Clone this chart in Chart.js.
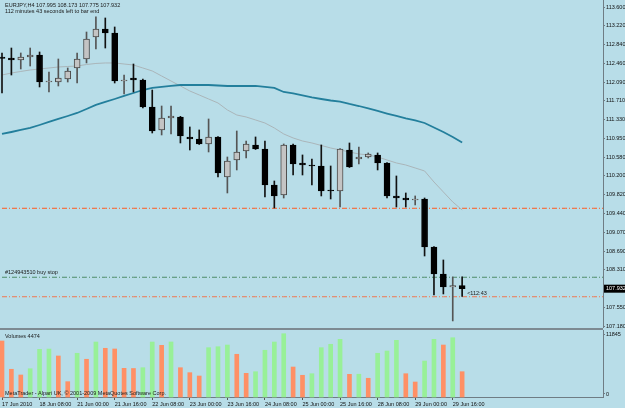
<!DOCTYPE html>
<html>
<head>
<meta charset="utf-8">
<script src="https://cdn.jsdelivr.net/npm/chart.js@4.4.1/dist/chart.umd.min.js"></script>
<style>
  html, body { margin: 0; padding: 0; background: #b8dde8; }
  #wrap { position: relative; width: 625px; height: 408px; overflow: hidden; }
  #price-chart { position: absolute; left: 0; top: 0; }
  #vol-chart { position: absolute; left: 0; top: 328px; }
</style>
</head>
<body>
<div id="wrap">
  <canvas id="price-chart" width="625" height="328"></canvas>
  <canvas id="vol-chart" width="625" height="80"></canvas>
</div>
<script>
// EURJPY H4 — 50 bars, oldest first
const opens = [
  112.594, 112.574, 112.534, 112.594, 112.635, 112.091, 112.091, 112.152, 112.373, 112.554,
  112.997, 113.158, 113.077, 112.111, 112.172, 112.132, 111.588, 111.126, 111.367, 111.387,
  110.985, 110.944, 110.844, 110.985, 110.180, 110.522, 110.703, 110.824, 110.743, 110.019,
  109.818, 110.824, 110.462, 110.421, 110.401, 109.918, 109.898, 110.723, 110.542, 110.582,
  110.623, 110.462, 109.798, 109.757, 109.717, 109.737, 108.771, 108.228, 107.967, 107.995
];
const highs = [
  112.675, 112.775, 112.675, 112.775, 112.695, 112.293, 112.554, 112.373, 112.675, 113.097,
  113.400, 113.379, 113.198, 112.232, 112.453, 112.150, 111.930, 111.608, 111.608, 111.400,
  111.186, 111.126, 111.347, 110.995, 110.582, 111.105, 110.904, 110.985, 110.904, 110.099,
  110.844, 110.844, 110.623, 110.542, 110.824, 110.401, 110.753, 110.864, 110.783, 110.663,
  110.663, 110.472, 110.200, 109.858, 109.798, 109.757, 108.781, 108.510, 108.168, 108.173
];
const lows = [
  111.870, 112.232, 112.353, 112.413, 111.991, 111.890, 112.011, 112.091, 112.071, 112.474,
  112.755, 112.775, 112.071, 111.850, 111.890, 111.568, 111.065, 111.025, 111.045, 110.864,
  110.723, 110.834, 110.683, 110.180, 109.858, 110.321, 110.562, 110.733, 109.777, 109.556,
  109.757, 110.220, 110.220, 110.019, 109.798, 109.737, 109.576, 110.371, 110.441, 110.562,
  110.321, 109.757, 109.576, 109.576, 109.617, 108.590, 107.806, 107.826, 107.283, 107.775
];
const closes = [
  112.564, 112.534, 112.594, 112.635, 112.091, 112.111, 112.172, 112.313, 112.554, 112.957,
  113.158, 113.077, 112.111, 112.132, 112.132, 111.588, 111.105, 111.367, 111.407, 111.005,
  110.944, 110.844, 110.985, 110.260, 110.502, 110.683, 110.844, 110.743, 110.019, 109.798,
  110.824, 110.441, 110.421, 110.401, 109.898, 109.898, 110.743, 110.381, 110.582, 110.643,
  110.462, 109.798, 109.757, 109.717, 109.737, 108.771, 108.228, 107.967, 107.995, 107.932
];
const volumes = [
  9900, 4900, 3890, 5000, 8430, 8480, 7250, 2710, 7730, 6670,
  9720, 8610, 8490, 5070, 5040, 5180, 9720, 9140, 9730, 5180,
  4300, 3710, 8720, 8890, 9190, 7550, 4190, 4470, 8260, 9720,
  11190, 5300, 3840, 4120, 8720, 9320, 10200, 4010, 4030, 3310,
  7730, 8130, 10020, 4120, 2650, 6360, 10200, 9190, 10480, 4474
];
// silver (fast) and teal (slow) moving averages
const maFast = [
  112.232, 112.272, 112.303, 112.333, 112.353, 112.373, 112.393, 112.403, 112.413, 112.443,
  112.464, 112.474, 112.474, 112.453, 112.433, 112.373, 112.313, 112.212, 112.111, 112.011,
  111.910, 111.830, 111.749, 111.669, 111.528, 111.427, 111.387, 111.327, 111.266, 111.166,
  111.045, 110.965, 110.904, 110.864, 110.814, 110.763, 110.723, 110.683, 110.643, 110.623,
  110.582, 110.522, 110.462, 110.421, 110.361, 110.301, 110.079, 109.878, 109.677, 109.516
];
const maSlow = [
  111.045, 111.085, 111.126, 111.166, 111.226, 111.287, 111.347, 111.407, 111.468, 111.548,
  111.629, 111.689, 111.749, 111.810, 111.870, 111.930, 111.971, 111.991, 112.011, 112.031,
  112.031, 112.031, 112.031, 112.021, 112.011, 112.011, 112.011, 112.011, 111.991, 111.971,
  111.890, 111.860, 111.820, 111.780, 111.749, 111.719, 111.695, 111.649, 111.608, 111.558,
  111.508, 111.457, 111.407, 111.357, 111.317, 111.266, 111.176, 111.085, 110.985, 110.874
];
const axisLabels = [
  '17 Jun 2010', '18 Jun 08:00', '21 Jun 00:00', '21 Jun 16:00', '22 Jun 08:00',
  '23 Jun 00:00', '23 Jun 16:00', '24 Jun 08:00', '25 Jun 00:00', '25 Jun 16:00',
  '28 Jun 08:00', '29 Jun 00:00', '29 Jun 16:00'
];
const priceTicks = [
  113.600, 113.220, 112.840, 112.460, 112.090, 111.710, 111.330, 110.950, 110.580,
  110.200, 109.820, 109.440, 109.070, 108.690, 108.310, 107.550, 107.180
];
const volTicks = [11845, 0];
const volMax = 11845;
const upperLevel = 109.55;
const buyStopLevel = 108.162;
const lowerLevel = 107.77;

const symbol = 'EURJPY,H4';
const orderText = '#124943510 buy stop';
const timerText = '112 minutes 43 seconds left to bar end';
const timerShort = '<112:43';
const volText = 'Volumes 4474';
const copyText = 'MetaTrader - Alpari UK, \u00a9 2001-2009 MetaQuotes Software Corp.';

const SLOTS = 65;   // 50 bars + chart shift
const last = closes.length - 1;
const xLabels = Array.from({length: SLOTS}, (_, i) => (i % 4 === 0 && axisLabels[i / 4]) || '');

const FONT = 'Liberation Sans';
Chart.defaults.font.family = FONT;
Chart.defaults.font.size = 5.5;
Chart.defaults.color = '#111';
Chart.defaults.animation = false;

const AXIS = '#6f7c84';
const isBull = i => closes[i] >= opens[i];

// fixed-width right axis so both panels share the same x mapping
function fixRightAxis (scale) {
  scale.width = 22;
  scale.paddingTop = 0;
  scale.paddingBottom = 0;
}

const priceOverlay = {
  id: 'priceOverlay',
  afterDraw (chart) {
    const {ctx} = chart;
    const x = chart.scales.x, y = chart.scales.y;
    ctx.save();
    ctx.font = `5.5px "${FONT}"`;
    ctx.textBaseline = 'middle';
    ctx.fillStyle = '#1a1a1a';
    const ohlc = [opens[last], highs[last], lows[last], closes[last]].map(v => v.toFixed(3)).join(' ');
    ctx.fillText(`${symbol} ${ohlc}`, 5, 5);
    ctx.fillText(timerText, 5, 11.5);
    ctx.fillText(orderText, 5, y.getPixelForValue(buyStopLevel) - 5);
    const py = y.getPixelForValue(closes[last]);
    ctx.fillText(timerShort, x.getPixelForValue(last) + 5, py + 4.5);
    // current price box on the axis
    ctx.fillStyle = '#000';
    ctx.fillRect(y.left + 1, py - 4, 24, 8);
    ctx.fillStyle = '#fff';
    ctx.fillText(closes[last].toFixed(3), y.left + 3, py);
    ctx.restore();
  }
};

const levelLine = (value, color) => ({
  type: 'line',
  data: xLabels.map(() => value),
  borderColor: color,
  borderWidth: 1,
  borderDash: [5, 2, 1, 2],
  pointRadius: 0,
  order: 5
});

new Chart(document.getElementById('price-chart'), {
  type: 'bar',
  data: {
    labels: xLabels,
    datasets: [
      {
        label: 'body',
        data: opens.map((o, i) => [o, closes[i]]),
        backgroundColor: ctx => isBull(ctx.dataIndex) ? '#c4c4c4' : '#000',
        borderColor: ctx => isBull(ctx.dataIndex) ? '#4a4a4a' : '#000',
        borderWidth: 1,
        borderSkipped: false,
        barThickness: 6,
        minBarLength: 1,
        grouped: false,
        clip: false,
        order: 1
      },
      {
        label: 'wick',
        data: lows.map((l, i) => [l, highs[i]]),
        backgroundColor: ctx => isBull(ctx.dataIndex) ? '#555' : '#111',
        barThickness: 1,
        grouped: false,
        clip: false,
        order: 2
      },
      {
        type: 'line', label: 'MA slow', data: maSlow,
        borderColor: '#237f9c', borderWidth: 1.8, pointRadius: 0, order: 3
      },
      {
        type: 'line', label: 'MA fast', data: maFast,
        borderColor: '#aab5b9', borderWidth: 1, pointRadius: 0, order: 4
      },
      levelLine(upperLevel, '#ff5a1e'),
      levelLine(buyStopLevel, '#4e8c68'),
      levelLine(lowerLevel, '#f07850')
    ]
  },
  options: {
    responsive: false,
    layout: { padding: { left: 2, top: 0, right: 0, bottom: 0 } },
    plugins: { legend: { display: false }, tooltip: { enabled: false } },
    scales: {
      x: { type: 'category', display: false, offset: false, grid: { offset: false } },
      y: {
        position: 'right',
        min: 107.141,
        max: 113.741,
        afterBuildTicks: scale => { scale.ticks = priceTicks.map(v => ({ value: v })); },
        afterFit: fixRightAxis,
        ticks: { padding: 1, callback: v => v.toFixed(3) },
        grid: { drawOnChartArea: false, tickLength: 2, color: AXIS },
        border: { color: AXIS }
      }
    }
  },
  plugins: [priceOverlay]
});

const volOverlay = {
  id: 'volOverlay',
  afterDraw (chart) {
    const {ctx, chartArea} = chart;
    ctx.save();
    ctx.fillStyle = '#7d8a92';
    ctx.fillRect(0, 0, chartArea.right, 2);
    ctx.font = `5.5px "${FONT}"`;
    ctx.textBaseline = 'middle';
    ctx.fillStyle = '#1a1a1a';
    ctx.fillText(volText, 5, 8);
    ctx.fillText(copyText, 5, 65);
    ctx.restore();
  }
};

new Chart(document.getElementById('vol-chart'), {
  type: 'bar',
  data: {
    labels: xLabels,
    datasets: [{
      label: 'Volumes',
      data: volumes,
      backgroundColor: ctx => {
        const i = ctx.dataIndex;
        return i > 0 && volumes[i] > volumes[i - 1] ? '#98f098' : '#ff9065';
      },
      barThickness: 4,
      clip: false
    }]
  },
  options: {
    responsive: false,
    layout: { padding: { left: 2, top: 2, right: 0, bottom: 0 } },
    plugins: { legend: { display: false }, tooltip: { enabled: false } },
    scales: {
      x: {
        type: 'category',
        offset: false,
        afterFit: scale => { scale.height = 11; scale.paddingLeft = 0; scale.paddingRight = 0; },
        ticks: { autoSkip: false, maxRotation: 0, align: 'start', padding: 1,
                 callback: (v, i) => xLabels[i] },
        grid: {
          offset: false, drawOnChartArea: false, tickLength: 3,
          color: ctx => xLabels[ctx.index] ? '#555' : 'rgba(0,0,0,0)'
        },
        border: { color: AXIS }
      },
      y: {
        position: 'right',
        min: 0,
        max: volMax,
        // MT4 keeps the max/zero labels just inside the panel
        afterBuildTicks: scale => {
          scale.ticks = volTicks.map(v => ({ value: v > 0 ? v * 0.93 : volMax * 0.045 }));
        },
        afterFit: fixRightAxis,
        ticks: { padding: 1, callback: v => (v > volMax / 2 ? volTicks[0] : volTicks[1]) },
        grid: { drawOnChartArea: false, tickLength: 2, color: AXIS },
        border: { color: AXIS }
      }
    }
  },
  plugins: [volOverlay]
});
</script>
</body>
</html>
